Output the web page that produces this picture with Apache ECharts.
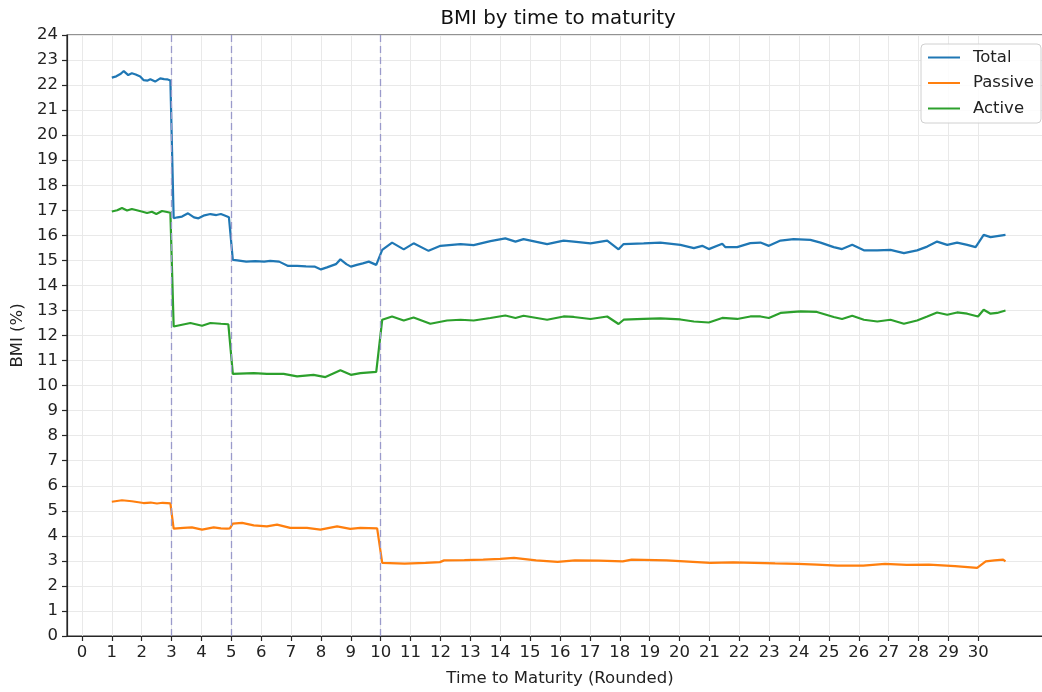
<!DOCTYPE html>
<html>
<head>
<meta charset="utf-8">
<title>BMI by time to maturity</title>
<script src="https://cdn.jsdelivr.net/npm/echarts@6/dist/echarts.min.js"></script>
<style>
  html, body { margin: 0; padding: 0; background: #fff; }
  #chart { width: 1042px; height: 692px; }
</style>
</head>
<body>
<div id="chart"></div>
<script>
// [time to maturity (years), BMI (%)]
const total = [
  [1.00,22.30],[1.15,22.35],[1.30,22.45],[1.40,22.56],[1.55,22.40],[1.67,22.47],[1.80,22.42],[1.95,22.34],
  [2.06,22.20],[2.20,22.18],[2.29,22.23],[2.45,22.14],[2.62,22.27],[2.75,22.24],[2.85,22.23],[2.96,22.18],
  [3.07,16.68],[3.20,16.72],[3.35,16.75],[3.55,16.88],[3.75,16.72],[3.90,16.68],[4.10,16.80],[4.30,16.85],
  [4.50,16.81],[4.65,16.85],[4.80,16.78],[4.92,16.72],
  [5.05,15.02],[5.20,15.00],[5.50,14.95],[5.80,14.97],[6.10,14.95],[6.30,14.98],[6.60,14.95],[6.90,14.78],
  [7.20,14.78],[7.50,14.76],[7.80,14.75],[8.00,14.64],[8.20,14.72],[8.50,14.85],[8.65,15.04],[8.85,14.85],
  [9.00,14.75],[9.20,14.82],[9.40,14.88],[9.60,14.95],[9.85,14.82],
  [10.05,15.42],[10.38,15.71],[10.77,15.44],[11.10,15.68],[11.60,15.38],[12.00,15.58],[12.67,15.65],[13.11,15.61],
  [13.67,15.77],[14.17,15.88],[14.51,15.75],[14.78,15.85],[15.57,15.65],[16.12,15.79],[16.46,15.75],[17.02,15.68],
  [17.58,15.79],[17.96,15.44],[18.13,15.65],[18.80,15.68],[19.36,15.71],[20.03,15.62],[20.48,15.49],[20.76,15.58],
  [20.98,15.45],[21.43,15.66],[21.53,15.53],[21.93,15.53],[22.37,15.69],[22.71,15.71],[22.99,15.58],[23.38,15.79],
  [23.82,15.85],[24.38,15.82],[24.72,15.71],[25.16,15.53],[25.44,15.45],[25.78,15.62],[26.17,15.40],[26.62,15.40],
  [27.06,15.42],[27.51,15.29],[27.95,15.40],[28.29,15.55],[28.62,15.75],[28.96,15.62],[29.29,15.71],[29.63,15.62],
  [29.91,15.53],[30.07,15.82],[30.18,16.02],[30.41,15.93],[30.91,16.02]
];

const passive = [
  [1.00,5.36],[1.34,5.42],[1.67,5.38],[2.06,5.31],[2.30,5.33],[2.51,5.29],[2.70,5.32],[2.85,5.31],[2.96,5.30],
  [3.07,4.29],[3.40,4.32],[3.68,4.34],[4.02,4.25],[4.41,4.34],[4.65,4.30],[4.85,4.29],[4.95,4.30],
  [5.05,4.49],[5.36,4.52],[5.75,4.42],[6.19,4.38],[6.53,4.45],[6.97,4.32],[7.53,4.32],[7.98,4.25],
  [8.54,4.38],[8.98,4.28],[9.32,4.32],[9.88,4.30],
  [10.05,2.92],[10.80,2.89],[11.50,2.92],[11.98,2.95],[12.12,3.02],[12.80,3.03],[13.43,3.05],[14.00,3.08],
  [14.46,3.12],[15.20,3.02],[15.92,2.96],[16.50,3.02],[17.30,3.01],[18.10,2.98],[18.40,3.05],[19.57,3.02],
  [20.30,2.97],[21.03,2.92],[21.80,2.94],[22.50,2.92],[23.20,2.90],[23.96,2.88],[24.60,2.85],[25.28,2.81],
  [26.15,2.81],[26.88,2.88],[27.60,2.84],[28.35,2.85],[29.22,2.79],[29.96,2.72],[30.25,2.98],[30.54,3.02],
  [30.83,3.05],[30.91,2.98]
];

const active = [
  [1.00,16.95],[1.18,17.00],[1.34,17.09],[1.51,16.99],[1.67,17.05],[2.00,16.95],[2.18,16.89],[2.34,16.94],
  [2.49,16.85],[2.68,16.97],[2.85,16.93],[2.96,16.90],
  [3.07,12.36],[3.35,12.43],[3.63,12.50],[4.02,12.39],[4.30,12.50],[4.65,12.47],[4.90,12.45],
  [5.05,10.47],[5.75,10.50],[6.19,10.47],[6.75,10.47],[7.20,10.37],[7.75,10.43],[8.15,10.34],[8.65,10.61],
  [9.00,10.43],[9.32,10.50],[9.85,10.55],
  [10.05,12.63],[10.38,12.76],[10.77,12.60],[11.10,12.72],[11.66,12.47],[12.22,12.60],[12.67,12.63],[13.11,12.60],
  [13.67,12.70],[14.17,12.80],[14.51,12.70],[14.78,12.79],[15.57,12.63],[16.12,12.76],[16.46,12.74],[17.02,12.66],
  [17.58,12.76],[17.96,12.46],[18.13,12.63],[18.80,12.66],[19.36,12.68],[20.03,12.64],[20.48,12.56],[20.98,12.52],
  [21.43,12.70],[21.93,12.66],[22.37,12.76],[22.71,12.76],[22.99,12.70],[23.38,12.90],[24.05,12.96],[24.60,12.94],
  [25.16,12.74],[25.44,12.66],[25.78,12.79],[26.17,12.63],[26.62,12.56],[27.06,12.63],[27.51,12.47],[27.95,12.60],
  [28.29,12.76],[28.62,12.92],[28.96,12.83],[29.29,12.92],[29.63,12.87],[29.99,12.76],[30.18,13.03],[30.41,12.87],
  [30.63,12.90],[30.91,13.00]
];

// maturity buckets marked with dashed lines
const bucketEdges = [3, 5, 10];
// tick labels
const xTicks = Array.from({ length: 31 }, (_, i) => i);
const yTicks = Array.from({ length: 25 }, (_, i) => i);

const FONT = 'DejaVu Sans';
const FS = 16.5;
const AXIS_COLOR = '#262626';
const GRID_LINE = { show: true, lineStyle: { color: '#e9e9e9', width: 1, type: 'solid' } };

const chart = echarts.init(document.getElementById('chart'), null, { renderer: 'canvas' });

chart.setOption({
  animation: false,
  backgroundColor: '#ffffff',
  textStyle: { fontFamily: FONT },
  title: {
    text: 'BMI by time to maturity',
    left: 553,
    top: 4,
    textAlign: 'center',
    textStyle: { fontFamily: FONT, fontSize: 19.8, fontWeight: 'normal', color: '#111' }
  },
  legend: {
    orient: 'vertical',
    left: 921,
    top: 44,
    padding: [5, 7, 6, 7],
    itemGap: 8.5,
    itemWidth: 32,
    itemHeight: 2,
    icon: 'rect',
    backgroundColor: 'rgba(255,255,255,0.85)',
    borderColor: '#d0d0d0',
    borderWidth: 1,
    borderRadius: 4,
    textStyle: { fontFamily: FONT, fontSize: FS, color: '#222', padding: [0, 0, 0, 8] },
    data: ['Total', 'Passive', 'Active']
  },
  grid: {
    left: 67,
    top: 35,
    width: 986,
    height: 601,
    show: true,
    borderColor: AXIS_COLOR,
    borderWidth: 1.2,
    containLabel: false,
    outerBoundsMode: 'none'
  },
  xAxis: {
    type: 'value',
    min: -0.5,
    max: 32.5,
    name: 'Time to Maturity (Rounded)',
    nameLocation: 'middle',
    nameGap: 34,
    nameTextStyle: { fontFamily: FONT, fontSize: FS, color: '#222' },
    axisLine: { show: true, onZero: false, lineStyle: { color: AXIS_COLOR, width: 1.2 } },
    axisTick: { show: true, inside: false, length: 5, customValues: xTicks, lineStyle: { color: AXIS_COLOR, width: 1.2 } },
    axisLabel: { customValues: xTicks, margin: 8, fontFamily: FONT, fontSize: FS, color: '#222' },
    splitLine: GRID_LINE
  },
  yAxis: {
    type: 'value',
    min: 0,
    max: 24,
    interval: 1,
    name: 'BMI (%)',
    nameLocation: 'middle',
    nameGap: 40,
    nameRotate: 90,
    nameTextStyle: { fontFamily: FONT, fontSize: FS, color: '#222' },
    axisLine: { show: true, onZero: false, lineStyle: { color: AXIS_COLOR, width: 1.2 } },
    axisTick: { show: true, inside: false, length: 5, lineStyle: { color: AXIS_COLOR, width: 1.2 } },
    axisLabel: { margin: 9, fontFamily: FONT, fontSize: FS, color: '#222',
                 formatter: v => (yTicks.includes(v) ? String(v) : '') },
    splitLine: GRID_LINE
  },
  series: [
    {
      name: 'Total',
      type: 'line',
      data: total,
      showSymbol: false,
      lineStyle: { color: '#1f77b4', width: 2.2 },
      itemStyle: { color: '#1f77b4' },
      z: 3,
      markLine: {
        silent: true,
        symbol: ['none', 'none'],
        label: { show: false },
        lineStyle: { color: '#9a9acb', width: 1.3, type: [7, 4] },
        data: bucketEdges.map(v => ({ xAxis: v }))
      }
    },
    {
      name: 'Passive',
      type: 'line',
      data: passive,
      showSymbol: false,
      lineStyle: { color: '#ff7f0e', width: 2.2 },
      itemStyle: { color: '#ff7f0e' },
      z: 3
    },
    {
      name: 'Active',
      type: 'line',
      data: active,
      showSymbol: false,
      lineStyle: { color: '#2ca02c', width: 2.2 },
      itemStyle: { color: '#2ca02c' },
      z: 3
    }
  ]
});
</script>
</body>
</html>
